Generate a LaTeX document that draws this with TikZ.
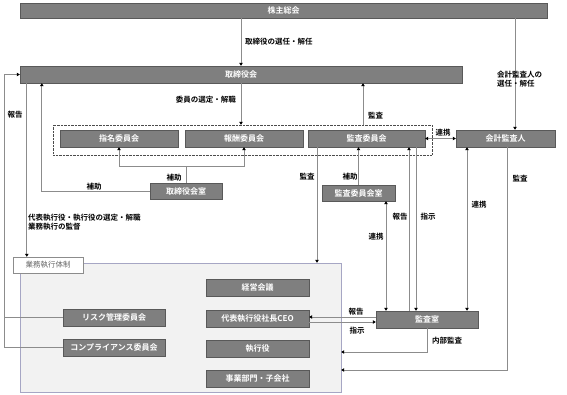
\documentclass[tikz,border=0pt]{standalone}
\usepackage{fontspec}
\setmainfont{Noto Sans CJK JP}[BoldFont={* Bold}]
\usetikzlibrary{positioning,calc,arrows.meta}
\definecolor{boxgray}{HTML}{7F7F7F}
\definecolor{boxline}{HTML}{595959}
\definecolor{linegray}{HTML}{8C8C8C}
\definecolor{framefill}{HTML}{F2F2F2}
\definecolor{frameline}{HTML}{A6A6C4}

\begin{document}
\begin{tikzpicture}[x=1pt,y=-1pt,
  box/.style={draw=boxline,fill=boxgray,text=white,font=\fontsize{8}{9}\selectfont\bfseries,inner sep=0pt,minimum height=17pt},
  lab/.style={font=\fontsize{7.5}{9}\selectfont\bfseries,inner sep=0pt,text=black},
  link/.style={draw=linegray,line width=0.8pt},
  arr/.style={link,-{Triangle[length=3pt,width=3.5pt,color=black]}},
  arrs/.style={link,{Triangle[length=3pt,width=3.5pt,color=black]}-{Triangle[length=3pt,width=3.5pt,color=black]}}]
\useasboundingbox (0,0) rectangle (567,395);

\node[box, minimum width=527pt, minimum height=15pt] (soukai) at (283.5,10.5) {株主総会};
\node[box, minimum width=442pt] (board) at (241,74.5) {取締役会};
\node[draw=black!70, densely dotted, line width=0.4pt, minimum width=379pt, minimum height=30pt, inner sep=0pt] (comm) at (242.5,140) {};
\node[box, minimum width=118pt] (nom) at (119,138.5) {指名委員会};
\node[box, minimum width=118pt] (rem) at (244,138.5) {報酬委員会};
\node[box, minimum width=117pt] (audc) at (366.5,138.5) {監査委員会};
\node[box, minimum width=99pt] (accaud) at (505.5,138.5) {会計監査人};
\node[box, minimum width=72pt, minimum height=16pt] (boardoff) at (186,191) {取締役会室};
\node[box, minimum width=73pt, minimum height=16pt] (audoff) at (358.5,193) {監査委員会室};

\node[draw=frameline, fill=framefill, minimum width=321pt, minimum height=129pt, inner sep=0pt] (frame) at (180.5,327.5) {};
\node[draw=linegray, fill=white, text=black!60, font=\fontsize{7.5}{8}\selectfont, minimum width=70pt, minimum height=16pt, inner sep=0pt] (exectag) at (48,265) {業務執行体制};
\node[box, minimum width=103pt] (keiei) at (257.5,287.5) {経営会議};
\node[box, minimum width=103pt] (ceo) at (257.5,318.5) {代表執行役社長CEO};
\node[box, minimum width=103pt] (shikko) at (257.5,348.5) {執行役};
\node[box, minimum width=103pt] (jigyo) at (257.5,378.5) {事業部門・子会社};
\node[box, minimum width=102pt] (risk) at (114,317.5) {リスク管理委員会};
\node[box, minimum width=102pt] (comp) at (114,347.5) {コンプライアンス委員会};
\node[box, minimum width=102pt] (naibu) at (427,319.5) {監査室};

\draw[arr] (soukai.south -| board.north) to (board.north);
\draw[arr] ([xshift=9.5pt]soukai.south -| accaud.north) to ([xshift=9.5pt]accaud.north);
\draw[arr] (board.south) to (board.south |- comm.north);
\draw[arr] ([xshift=-3.5pt]audc.north |- comm.north) to ([xshift=-3.5pt]audc.north |- board.south);
\draw[arr] (comp.west) -- ++(-58,0) |- (board.west);
\draw[link] (risk.west) -- ++(-58,0);
\draw[arr] ([xshift=7pt]board.south west) to ([xshift=7pt]board.south west |- exectag.north);
\draw[arr] (boardoff.west) -| ([xshift=22pt]board.south west);
\draw[arr] (boardoff.north) -- ++(0,-16) -| (nom.south);
\draw[arr] (boardoff.north) -- ++(0,-16) -| (rem.south);
\draw[arr] (audoff.north) to (audoff.north |- audc.south);
\draw[arr] ([xshift=-49.5pt]audc.south) to ([xshift=-49.5pt]audc.south |- frame.north);
\draw[arrs] (audc.east) to (accaud.west);
\draw[arrs] ([xshift=27.5pt]audoff.south) to ([xshift=27.5pt]audoff.south |- naibu.north);
\draw[arr] ([xshift=42.5pt]audc.south |- naibu.north) to ([xshift=42.5pt]audc.south);
\draw[arr] ([xshift=49.5pt]audc.south) to ([xshift=49.5pt]audc.south |- naibu.north);
\draw[arrs] ([xshift=-38.5pt]accaud.south) to ([xshift=-38.5pt]accaud.south |- naibu.north);
\draw[arr] ([xshift=1.5pt]accaud.south) |- ([yshift=-42.5pt]frame.east);
\draw[arr] ([yshift=2.5pt]naibu.west) to ([yshift=2.5pt]naibu.west -| ceo.east);
\draw[arr] ([yshift=-3.5pt]ceo.east) to ([yshift=-3.5pt]ceo.east -| naibu.west);
\draw[arr] (naibu.south) |- ([yshift=-24.5pt]frame.east);

\node[lab, anchor=west] (l1) at (245,42) {取締役の選任・解任};
\node[lab, anchor=west, align=left] (l2) at (497,79) {会計監査人の\\選任・解任};
\node[lab] (l3) at (15,115) {報告};
\node[lab, anchor=east] (l4) at (236,100) {委員の選定・解職};
\node[lab, anchor=west] (l5) at (368,116) {監査};
\node[lab] (l6) at (94,187) {補助};
\node[lab] (l7) at (174,178) {補助};
\node[lab, anchor=north west, align=left] (l8) at (28,214) {代表執行役・執行役の選定・解職\\業務執行の監督};
\node[lab] (l9) at (443,133) {連携};
\node[lab] (l10) at (307,177) {監査};
\node[lab] (l11) at (350,177) {補助};
\node[lab] (l12) at (520,179) {監査};
\node[lab] (l13) at (479,205) {連携};
\node[lab] (l14) at (400,217) {報告};
\node[lab] (l15) at (428,217) {指示};
\node[lab] (l16) at (376,237) {連携};
\node[lab] (l17) at (356,312) {報告};
\node[lab] (l18) at (357,331) {指示};
\node[lab] (l19) at (447,341) {内部監査};
\end{tikzpicture}
\end{document}
